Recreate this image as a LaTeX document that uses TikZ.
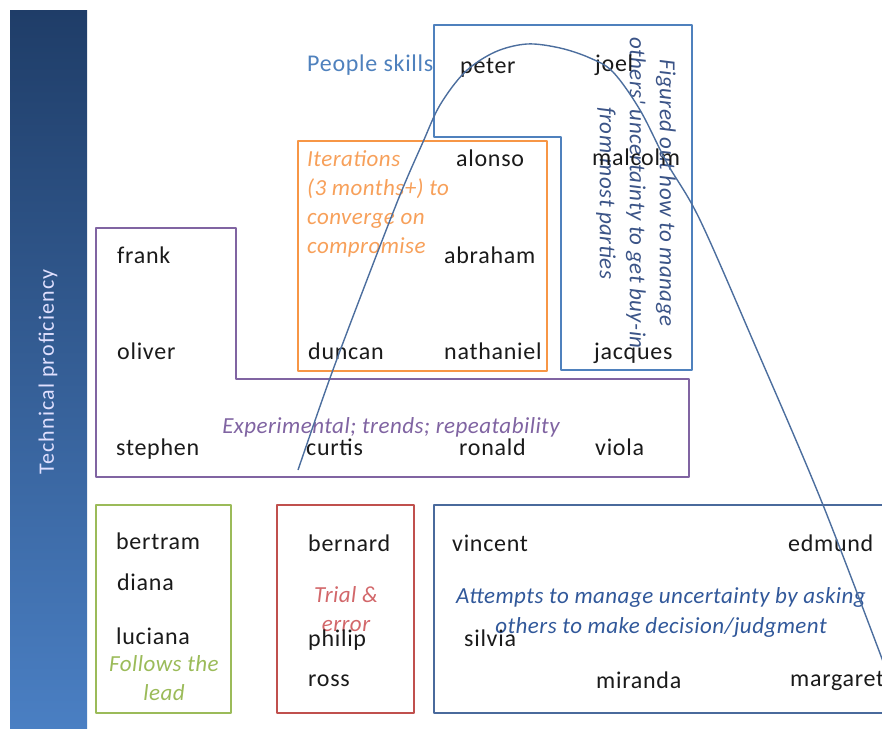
\documentclass[tikz,border=0pt]{standalone}
\usepackage{fontspec}
\setmainfont{Carlito}
\newfontfamily\namefam[LetterSpace=3]{Carlito}
\newfontfamily\notefam[LetterSpace=2]{Carlito}
\newfontfamily\barfam[LetterSpace=5]{Carlito}

\definecolor{namecol}{HTML}{1A1A1A}
\definecolor{peopleblue}{HTML}{4F81BD}
\definecolor{vertcol}{HTML}{3B5487}
\definecolor{orangeline}{HTML}{F79646}
\definecolor{orangetext}{HTML}{F7A05A}
\definecolor{purpleline}{HTML}{8064A2}
\definecolor{greenline}{HTML}{9BBB59}
\definecolor{redline}{HTML}{C0504D}
\definecolor{redtext}{HTML}{D2676A}
\definecolor{navyline}{HTML}{4A6A9C}
\definecolor{navytext}{HTML}{31589A}
\definecolor{curvecol}{HTML}{4C6E9E}
\definecolor{bartop}{HTML}{1F3D68}
\definecolor{barbottom}{HTML}{4A7FC3}

\tikzset{
  person/.style={anchor=west, inner sep=0pt, text=namecol, yshift=-3pt,
    font=\namefam\fontsize{24}{28}\selectfont,
    text height=15pt, text depth=3.8pt},
  note/.style={inner sep=0pt, yshift=-3pt,
    font=\notefam\itshape\fontsize{23}{29}\selectfont},
  groupbox/.style={line width=1.5pt, line join=round},
}

\begin{document}
\begin{tikzpicture}[x=1pt,y=-1pt]
\useasboundingbox (0,0) rectangle (882,728);
\clip (0,0) rectangle (882,728);

% vertical axis bar
\shade[top color=bartop, bottom color=barbottom] (10,10) rectangle (87,728);
\node[rotate=90, inner sep=0pt, text=white!88!blue,
      font=\barfam\fontsize{22}{26}\selectfont] (axis) at (48,372) {Technical proficiency};

% group outlines
\draw[groupbox, peopleblue] (434,25) -- (692,25) -- (692,370) -- (561,370)
  -- (561,137) -- (434,137) -- cycle;
\draw[groupbox, orangeline] (298,141) rectangle (547,371);
\draw[groupbox, purpleline] (96,228) -- (236,228) -- (236,379) -- (689,379)
  -- (689,477) -- (96,477) -- cycle;
\draw[groupbox, greenline] (96,505) rectangle (231,713);
\draw[groupbox, redline] (277,505) rectangle (414,713);
\draw[groupbox, navyline] (434,505) rectangle (900,713);

% group captions
\node[person, text=peopleblue] (people) at (307,63) {People skills};
\node[inner sep=0pt, text=vertcol, rotate=-90, align=center,
      font=\notefam\itshape\fontsize{23}{30}\selectfont] (figured) at (636,193)
  {Figured out how to manage\\others' uncertainty to get buy-in\\from most parties};
\node[note, text=orangetext, align=left, anchor=west] (iter) at (307,201)
  {Iterations\\(3 months+) to\\converge on\\compromise};
\node[note, text=purpleline, anchor=base] (exper) at (391,430)
  {Experimental; trends; repeatability};
\node[note, text=greenline, align=center] (follows) at (164,675) {Follows the\\lead};
\node[note, text=redtext, align=center] (trial) at (346,606) {Trial \&\\error};
\node[note, text=navytext, align=center,
      font=\notefam\itshape\fontsize{23}{30}\selectfont] (attempts) at (661,609)
  {Attempts to manage uncertainty by asking\\others to make decision/judgment};

% people
\node[person] (peter) at (460,65) {peter};
\node[person] (joel) at (595,63) {joel};
\node[person] (alonso) at (456,158) {alonso};
\node[person] (malcolm) at (592,157) {malcolm};
\node[person] (abraham) at (444,255) {abraham};
\node[person] (frank) at (117,255) {frank};
\node[person] (oliver) at (117,351) {oliver};
\node[person] (duncan) at (308,351) {duncan};
\node[person] (nathaniel) at (444,351) {nathaniel};
\node[person] (jacques) at (594,351) {jacques};
\node[person] (stephen) at (116,447) {stephen};
\node[person] (curtis) at (306,447) {curtis};
\node[person] (ronald) at (459,447) {ronald};
\node[person] (viola) at (595,447) {viola};
\node[person] (bertram) at (116,541) {bertram};
\node[person] (diana) at (117,582) {diana};
\node[person] (luciana) at (116,636) {luciana};
\node[person] (bernard) at (308,543) {bernard};
\node[person] (philip) at (308,638) {philip};
\node[person] (ross) at (308,678) {ross};
\node[person] (vincent) at (452,543) {vincent};
\node[person] (edmund) at (788,543) {edmund};
\node[person] (silvia) at (464,638) {silvia};
\node[person] (miranda) at (596,680) {miranda};
\node[person] (margaret) at (790,678) {margaret};

% trend curve
\draw[curvecol, line width=1.4pt] plot[smooth, tension=0.55] coordinates {
  (298,470) (330,378) (365,285) (400,195) (423,142) (440,105) (465,72)
  (495,52) (527,44) (560,48) (590,58) (613,72) (640,110) (667,163)
  (700,220) (757,350) (823,505) (890,680)};
\end{tikzpicture}
\end{document}
